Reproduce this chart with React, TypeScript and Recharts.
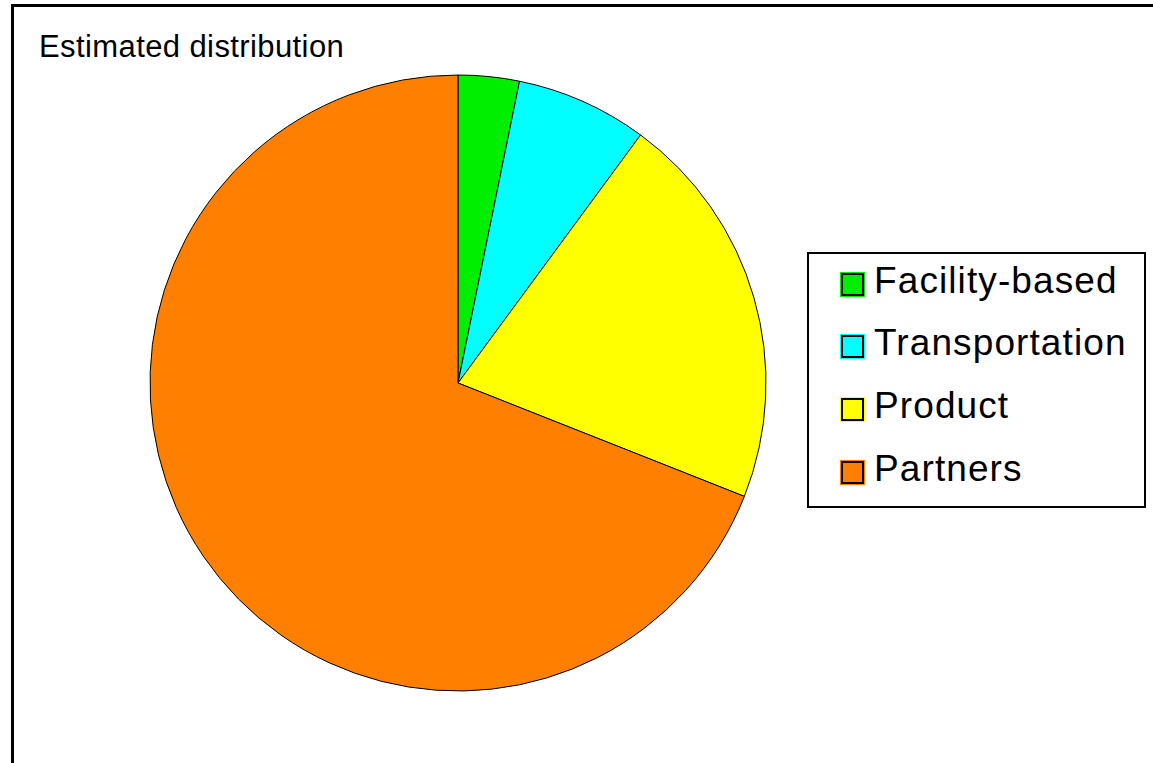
import { Legend, Pie, PieChart, Cell } from 'recharts'

const categories = ['Facility-based', 'Transportation', 'Product', 'Partners']
const shares = [3.2, 6.9, 20.9, 69.0]
const colors = ['#00ee00', '#00ffff', '#ffff00', '#ff8000']

const data = categories.map((name, i) => ({ name, value: shares[i] }))

const FONT = '"Liberation Sans", Arial, sans-serif'
const ROW = 62.7

function BoxLegend() {
  return (
    <div
      style={{
        position: 'relative',
        width: 339,
        height: 256,
        boxSizing: 'border-box',
        border: '2px solid #000',
        background: '#fff',
        fontFamily: FONT,
      }}
    >
      {categories.map((name, i) => (
        <div
          key={name}
          style={{
            position: 'absolute',
            left: 0,
            top: -1.35 + i * ROW,
            height: ROW,
            display: 'flex',
            alignItems: 'center',
            paddingLeft: 32,
            whiteSpace: 'nowrap',
          }}
        >
          <span
            style={{
              width: 19,
              height: 19,
              background: colors[i],
              border: '2px solid #000',
              boxShadow: `0 0 0 1px ${colors[i]}`,
              display: 'inline-block',
              flex: 'none',
            }}
          />
          <span
            style={{
              marginLeft: 10,
              fontSize: 37,
              letterSpacing: 1.1,
              color: '#000',
              lineHeight: 1,
              position: 'relative',
              top: -4,
            }}
          >
            {name}
          </span>
        </div>
      ))}
    </div>
  )
}

export default function App() {
  return (
    <div
      style={{
        position: 'absolute',
        left: 0,
        top: 0,
        width: 1153,
        height: 763,
        overflow: 'hidden',
        background: '#fff',
      }}
    >
      <div
        style={{
          position: 'absolute',
          left: 11,
          top: 4,
          width: 1400,
          height: 1000,
          borderTop: '3px solid #000',
          borderLeft: '3px solid #000',
        }}
      />
      <div
        style={{
          position: 'absolute',
          left: 39,
          top: 31,
          fontFamily: FONT,
          fontSize: 31,
          letterSpacing: 0.4,
          lineHeight: 1,
          color: '#000',
          whiteSpace: 'nowrap',
        }}
      >
        Estimated distribution
      </div>
      <PieChart width={1153} height={763} style={{ position: 'absolute', left: 0, top: 0 }}>
        <Pie
          data={data}
          dataKey="value"
          nameKey="name"
          cx={453}
          cy={378}
          outerRadius={308}
          startAngle={90}
          endAngle={-270}
          stroke="#000"
          strokeWidth={1}
          isAnimationActive={false}
        >
          {data.map((d, i) => (
            <Cell key={d.name} fill={colors[i]} />
          ))}
        </Pie>
        <Legend
          content={() => <BoxLegend />}
          wrapperStyle={{ position: 'absolute', left: 807, top: 252, width: 339, height: 256 }}
        />
      </PieChart>
    </div>
  )
}
